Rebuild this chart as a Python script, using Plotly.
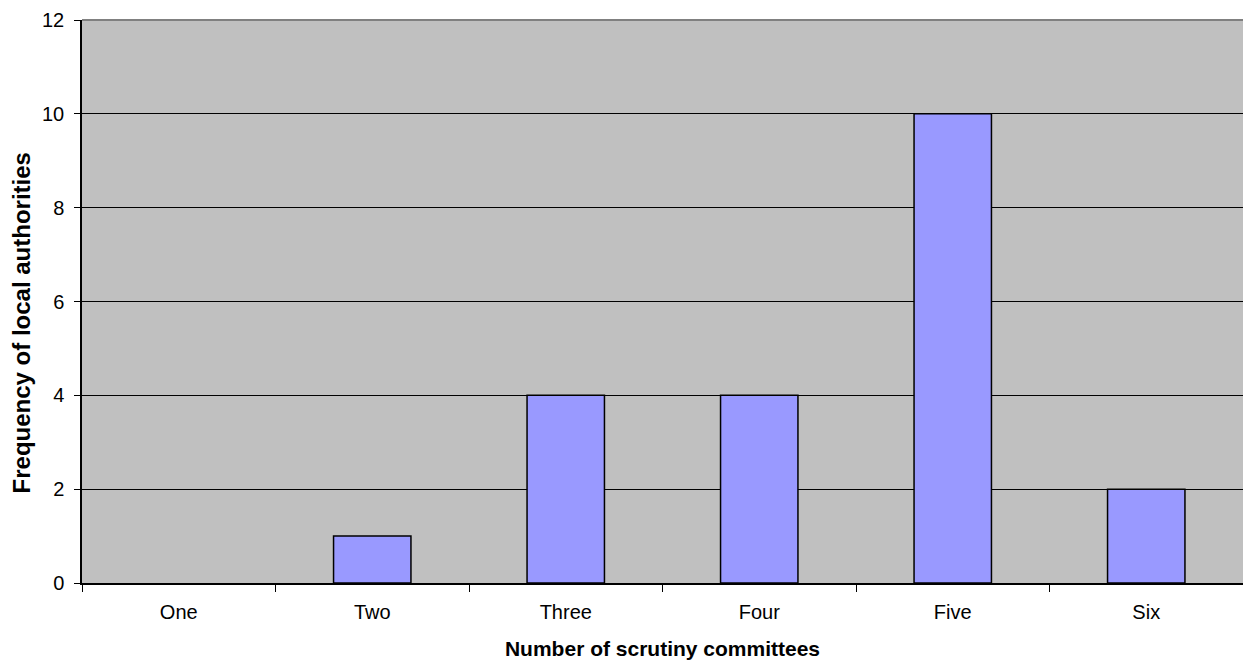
import plotly.graph_objects as go

# Number of scrutiny committees per authority and how many authorities have each
categories = ["One", "Two", "Three", "Four", "Five", "Six"]
frequencies = [0, 1, 4, 4, 10, 2]
y_ticks = [0, 2, 4, 6, 8, 10, 12]

FONT = "Liberation Sans, Arial, sans-serif"

# empty categories get no outline so nothing is drawn on the baseline
outline_widths = [1.5 if v > 0 else 0 for v in frequencies]

fig = go.Figure(
    go.Bar(
        x=categories,
        y=frequencies,
        width=0.4,
        marker=dict(color="#9999FF", line=dict(color="#000000", width=outline_widths)),
        hoverinfo="x+y",
    )
)

fig.update_layout(
    width=1243,
    height=661,
    margin=dict(l=82, r=0, t=20, b=78),
    paper_bgcolor="#FFFFFF",
    plot_bgcolor="#C0C0C0",
    showlegend=False,
    font=dict(family=FONT, color="#000000", size=20),
    bargap=0.6,
)

fig.update_xaxes(
    type="category",
    tickson="boundaries",
    ticks="outside",
    ticklen=7,
    tickcolor="#000000",
    tickwidth=1,
    showline=True,
    linecolor="#000000",
    linewidth=1.5,
    showgrid=False,
    tickfont=dict(size=20),
    ticklabelstandoff=10,
    title=dict(text="<b>Number of scrutiny committees</b>", font=dict(size=21), standoff=20),
)

fig.update_yaxes(
    range=[0, 12],
    tickvals=y_ticks,
    ticks="outside",
    ticklen=6,
    tickcolor="#000000",
    showline=True,
    linecolor="#000000",
    linewidth=1.5,
    showgrid=True,
    gridcolor="#000000",
    gridwidth=1,
    zeroline=False,
    tickfont=dict(size=20),
    ticklabelstandoff=6,
)

# vertical axis title, centred a little below the middle of the plot area
fig.add_annotation(
    text="<b>Frequency of local authorities</b>",
    xref="paper", yref="paper", x=0, y=0.461,
    xanchor="center", yanchor="middle", xshift=-61,
    textangle=-90, showarrow=False,
    font=dict(family=FONT, size=24, color="#000000"),
)

# grey frame edge along the top of the plotting area
fig.add_shape(
    type="line", xref="paper", yref="paper", x0=0, x1=1, y0=1, y1=1,
    line=dict(color="#808080", width=2), layer="above",
)

fig.write_html("out.html")
